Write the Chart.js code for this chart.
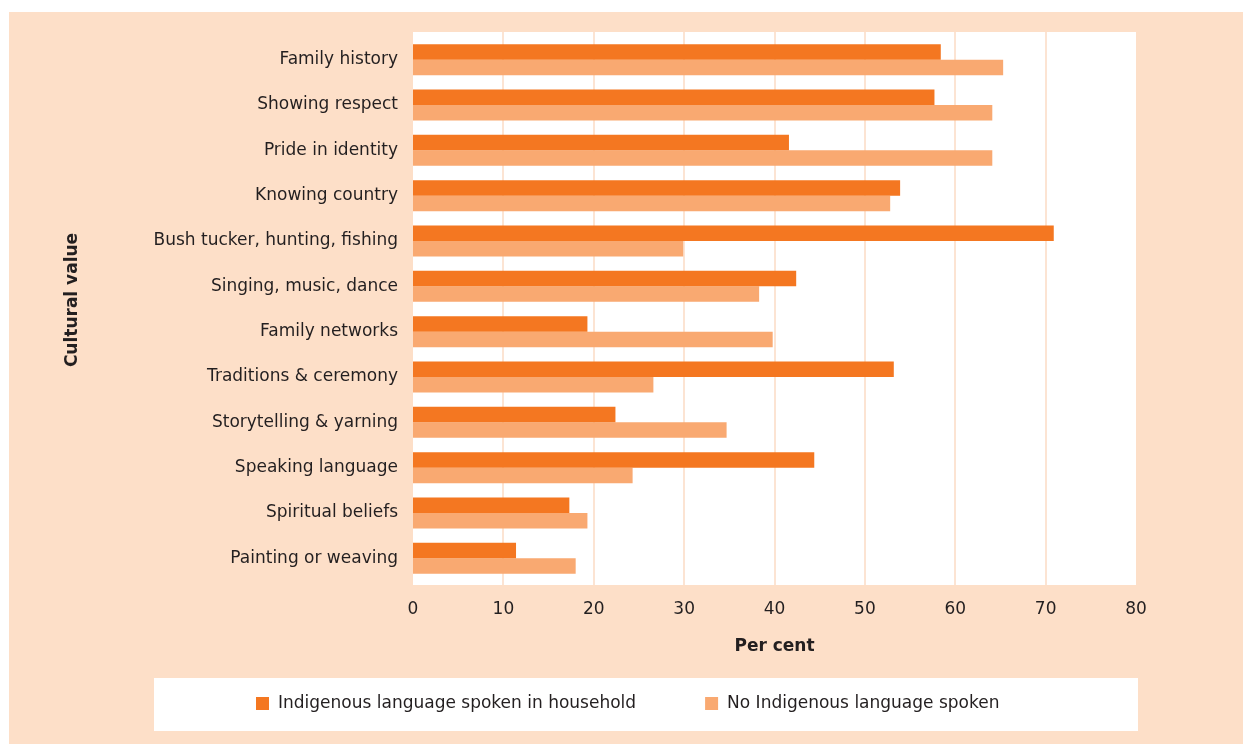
<!DOCTYPE html>
<html><head><meta charset="utf-8">
<script src="https://cdn.jsdelivr.net/npm/chart.js@4.4.0/dist/chart.umd.min.js"></script>
<style>html,body{margin:0;padding:0;background:#ffffff;}#wrap{width:1243px;height:744px;}</style>
</head><body><div id="wrap"><canvas id="c" width="1243" height="744"></canvas></div>
<script>
const categories = ["Family history","Showing respect","Pride in identity","Knowing country","Bush tucker, hunting, fishing","Singing, music, dance","Family networks","Traditions & ceremony","Storytelling & yarning","Speaking language","Spiritual beliefs","Painting or weaving"];
const seriesNames = ["Indigenous language spoken in household","No Indigenous language spoken"];
const indigenousLang = [58.4,57.7,41.6,53.9,70.9,42.4,19.3,53.2,22.4,44.4,17.3,11.4];
const noIndigenousLang = [65.3,64.1,64.1,52.8,29.9,38.3,39.8,26.6,34.7,24.3,19.3,18.0];
const xTickValues = [0,10,20,30,40,50,60,70,80];
const xTitle = "Per cent";
const yTitle = "Cultural value";

const FONT = "'DejaVu Sans', sans-serif";
const TEXT = "#231F20";
const PEACH = "#FDDFC8";
const GRID = "#FCE4D3";
const C1 = "#F47721";
const C2 = "#F9A971";

const decor = {
  id: 'decor',
  beforeDraw(chart) {
    const {ctx, chartArea: a, scales: {x}} = chart;
    ctx.save();
    ctx.fillStyle = PEACH;
    ctx.fillRect(9, 12, 1243 - 9, 744 - 12);
    ctx.fillStyle = "#ffffff";
    ctx.fillRect(a.left, a.top - 5, a.right - a.left, a.bottom - a.top + 9);
    ctx.fillRect(154, 678, 984, 53);
    ctx.strokeStyle = GRID;
    ctx.lineWidth = 2;
    xTickValues.forEach(v => {
      if (v === xTickValues[0] || v === xTickValues[xTickValues.length - 1]) return;
      const px = Math.round(x.getPixelForValue(v));
      ctx.beginPath();
      ctx.moveTo(px, a.top - 5);
      ctx.lineTo(px, a.bottom + 4);
      ctx.stroke();
    });
    ctx.restore();
  },
  afterDraw(chart) {
    const {ctx, chartArea: a} = chart;
    ctx.save();
    // y axis title
    ctx.translate(73, 300);
    ctx.rotate(-Math.PI / 2);
    ctx.font = "bold 17px " + FONT;
    ctx.fillStyle = TEXT;
    ctx.textAlign = "center";
    ctx.textBaseline = "middle";
    ctx.fillText(yTitle, 0, 0);
    ctx.restore();
    // legend
    ctx.save();
    ctx.font = "17px " + FONT;
    ctx.textBaseline = "middle";
    ctx.textAlign = "left";
    let lx = 256;
    chart.data.datasets.forEach(ds => {
      ctx.fillStyle = ds.backgroundColor;
      ctx.fillRect(lx, 697, 13, 13);
      ctx.fillStyle = TEXT;
      ctx.fillText(ds.label, lx + 22, 704);
      lx += 22 + ctx.measureText(ds.label).width + 69;
    });
    ctx.restore();
  }
};

new Chart(document.getElementById('c'), {
  type: 'bar',
  data: {
    labels: categories,
    datasets: [
      {label: seriesNames[0], data: indigenousLang, backgroundColor: C1, borderWidth: 0, barPercentage: 1, categoryPercentage: 0.683},
      {label: seriesNames[1], data: noIndigenousLang, backgroundColor: C2, borderWidth: 0, barPercentage: 1, categoryPercentage: 0.683}
    ]
  },
  options: {
    indexAxis: 'y',
    responsive: false,
    animation: false,
    devicePixelRatio: 1,
    layout: {padding: {left: 0, right: 107, top: 37, bottom: 0}},
    plugins: {legend: {display: false}, tooltip: {enabled: false}},
    scales: {
      x: {
        min: 0, max: 80,
        afterBuildTicks: s => { s.ticks = xTickValues.map(v => ({value: v})); },
        ticks: {font: {family: FONT, size: 17}, color: TEXT, padding: 18},
        grid: {display: false, drawTicks: false},
        border: {display: false},
        title: {display: true, text: xTitle, color: TEXT, font: {family: FONT, size: 17, weight: 'bold'}, padding: {top: 0, bottom: 87}},
        afterFit: s => { s.height = 163; }
      },
      y: {
        ticks: {font: {family: FONT, size: 17}, color: TEXT, padding: 15},
        grid: {display: false, drawTicks: false},
        border: {display: false},
        afterFit: s => { s.width = 413; }
      }
    }
  },
  plugins: [decor]
});
</script>
</body></html>
